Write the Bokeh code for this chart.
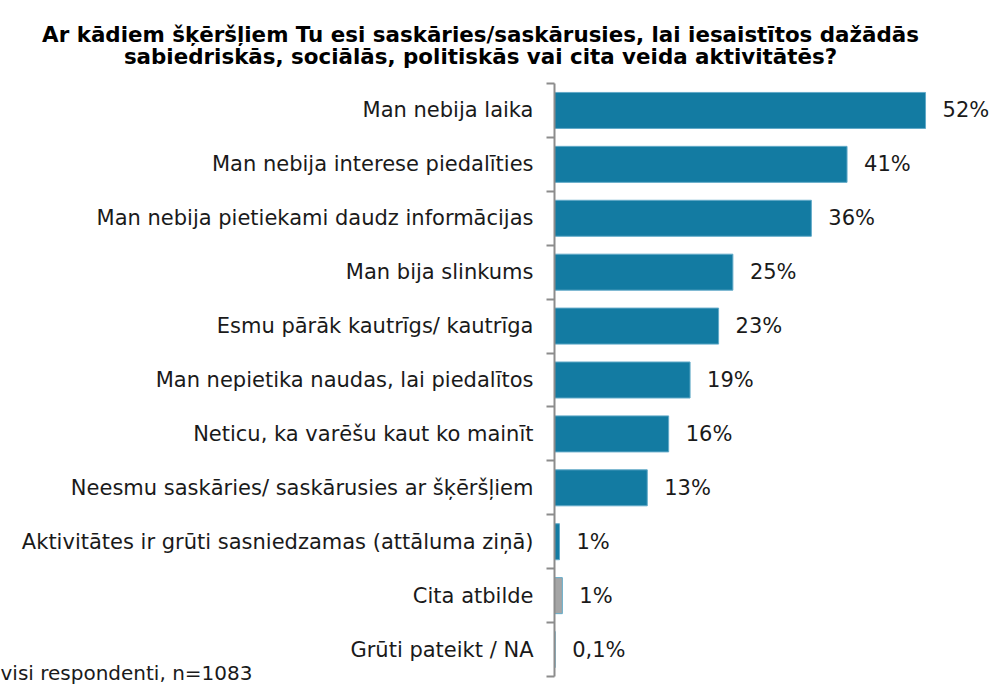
from bokeh.plotting import figure
from bokeh.models import Range1d, FixedTicker, Label
from bokeh.core.properties import value
from bokeh.embed import file_html
from bokeh.resources import INLINE

title_lines = [
    "Ar kādiem šķēršļiem Tu esi saskāries/saskārusies, lai iesaistītos dažādās",
    "sabiedriskās, sociālās, politiskās vai cita veida aktivitātēs?",
]
categories = [
    "Man nebija laika",
    "Man nebija interese piedalīties",
    "Man nebija pietiekami daudz informācijas",
    "Man bija slinkums",
    "Esmu pārāk kautrīgs/ kautrīga",
    "Man nepietika naudas, lai piedalītos",
    "Neticu, ka varēšu kaut ko mainīt",
    "Neesmu saskāries/ saskārusies ar šķēršļiem",
    "Aktivitātes ir grūti sasniedzamas (attāluma ziņā)",
    "Cita atbilde",
    "Grūti pateikt / NA",
]
values = [52, 41, 36, 25, 23, 19, 16, 13, 0.7, 1.1, 0.1]
value_labels = ["52%", "41%", "36%", "25%", "23%", "19%", "16%", "13%", "1%", "1%", "0,1%"]
bar_colors = ["#137ba2"] * 9 + ["#a5a5a5", "#a5a5a5"]
footer = "visi respondenti, n=1083"

FONT = "DejaVu Sans"
W, H = 995, 689

# pixel geometry of the plotting area inside the canvas
ZERO_X = 554          # canvas x of the value axis zero
PX_PER_UNIT = 7.135   # pixels per percent
TOP_B, BOT_B = 83, 676  # canvas y of top / bottom category boundary

n = len(categories)
idx = list(range(n))
row_px = (BOT_B - TOP_B) / n
x_start = -ZERO_X / PX_PER_UNIT
x_end = (W - ZERO_X) / PX_PER_UNIT
y_top = -0.5 - TOP_B / row_px
y_bot = (n - 0.5) + (H - BOT_B) / row_px

p = figure(width=W, height=H, output_backend="svg", toolbar_location=None,
           x_range=Range1d(x_start, x_end), y_range=Range1d(y_bot, y_top),
           x_axis_location=None, min_border=0)
p.outline_line_color = None
p.xgrid.visible = False
p.ygrid.visible = False
p.background_fill_color = "white"
p.border_fill_color = "white"

p.hbar(y=idx, left=0, right=values, height=0.668, fill_color=bar_colors,
       line_color="#62aac8", line_width=1)

p.text(x=values, y=idx, text=value_labels, x_offset=17,
       text_baseline="middle", text_align="left",
       text_font=value(FONT), text_font_size="21px", text_color="#1a1a1a")

ax = p.yaxis[0]
ax.fixed_location = 0
ax.bounds = (-0.5, n - 0.5)
ax.ticker = FixedTicker(ticks=idx, minor_ticks=[i - 0.5 for i in range(n + 1)])
ax.major_label_overrides = {i: c for i, c in enumerate(categories)}
ax.major_tick_line_color = None
ax.major_tick_in = 0
ax.major_tick_out = 0
ax.minor_tick_in = 0
ax.minor_tick_out = 8
ax.minor_tick_line_color = "#8c8c8c"
ax.minor_tick_line_width = 2
ax.axis_line_color = "#8c8c8c"
ax.axis_line_width = 2
ax.major_label_standoff = 13
ax.major_label_text_font = FONT
ax.major_label_text_font_size = "21px"
ax.major_label_text_color = "#1a1a1a"

for text, ybase in zip(title_lines, [34, 56]):
    p.add_layout(Label(x=480, y=ybase, x_units="canvas", y_units="canvas",
                       text=text, text_align="center", text_baseline="alphabetic",
                       text_font=FONT, text_font_size="21.4px", text_font_style="bold",
                       text_color="black"))

p.add_layout(Label(x=0, y=660, x_units="canvas", y_units="canvas",
                   text=footer, text_align="left", text_baseline="top",
                   text_font=FONT, text_font_size="20px", text_color="#1a1a1a"))

open("out.html", "w").write(file_html(p, INLINE))
